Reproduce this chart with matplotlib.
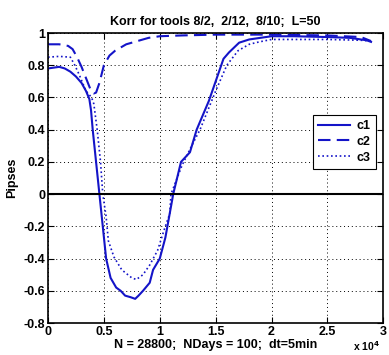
import numpy as np
import matplotlib.pyplot as plt

# ====== DATA (x in units of 10^4) ======
x1 = [0.00, 0.05, 0.10, 0.15, 0.20, 0.25, 0.30, 0.34, 0.37, 0.385, 0.40, 0.43, 0.46,
      0.49, 0.52, 0.56, 0.61, 0.65, 0.69, 0.74, 0.78, 0.81, 0.85, 0.91, 0.94, 1.00,
      1.05, 1.11, 1.12, 1.19, 1.27, 1.33, 1.44, 1.48, 1.57, 1.62, 1.71, 1.80, 1.90,
      2.00, 2.20, 2.50, 2.70, 2.85, 2.89]
c1 = [0.78, 0.785, 0.79, 0.78, 0.76, 0.73, 0.69, 0.64, 0.59, 0.52, 0.40, 0.20, 0.00,
      -0.20, -0.40, -0.52, -0.58, -0.60, -0.63, -0.64, -0.65, -0.63, -0.60, -0.55, -0.47, -0.40,
      -0.27, -0.04, 0.00, 0.20, 0.26, 0.40, 0.58, 0.66, 0.84, 0.88, 0.94, 0.96, 0.97,
      0.98, 0.98, 0.975, 0.97, 0.955, 0.945]

x2 = [0.00, 0.10, 0.18, 0.22, 0.26, 0.30, 0.34, 0.38, 0.41, 0.43, 0.46, 0.50, 0.55,
      0.60, 0.70, 0.80, 0.90, 1.00, 1.20, 1.50, 2.00, 2.50, 2.80, 2.89]
c2 = [0.93, 0.93, 0.92, 0.90, 0.85, 0.79, 0.72, 0.65, 0.625, 0.63, 0.69, 0.80, 0.86,
      0.89, 0.93, 0.95, 0.97, 0.98, 0.985, 0.99, 0.99, 0.985, 0.975, 0.95]

x3 = [0.00, 0.10, 0.20, 0.24, 0.28, 0.34, 0.39, 0.41, 0.44, 0.47, 0.49, 0.52, 0.54,
      0.59, 0.66, 0.75, 0.79, 0.85, 0.91, 0.98, 1.04, 1.09, 1.10, 1.20, 1.30, 1.36,
      1.50, 1.60, 1.70, 1.80, 1.89, 2.00, 2.50, 2.80, 2.89]
c3 = [0.85, 0.855, 0.85, 0.80, 0.74, 0.64, 0.60, 0.56, 0.40, 0.20, 0.00, -0.14, -0.29,
      -0.39, -0.47, -0.52, -0.53, -0.50, -0.44, -0.35, -0.22, -0.12, 0.00, 0.18, 0.32, 0.40,
      0.64, 0.80, 0.89, 0.93, 0.945, 0.96, 0.96, 0.955, 0.95]

x_ticks = [0, 0.5, 1, 1.5, 2, 2.5, 3]
x_labels = ["0", "0.5", "1", "1.5", "2", "2.5", "3"]
y_ticks = [-0.8, -0.6, -0.4, -0.2, 0, 0.2, 0.4, 0.6, 0.8, 1]
y_labels = ["-0.8", "-0.6", "-0.4", "-0.2", "0", "0.2", "0.4", "0.6", "0.8", "1"]

plt.rcParams['font.family'] = ['Liberation Sans', 'DejaVu Sans']
plt.rcParams['font.weight'] = 'bold'

# ====== FIGURE ======
fig = plt.figure(figsize=(3.89, 3.55), dpi=100)
ax = fig.add_axes([0.1234, 0.0901, 0.862, 0.8169])

blue = '#1414c8'
ax.plot(x1, c1, color=blue, lw=1.5, ls='-', label='c1')
ax.plot(x2, c2, color=blue, lw=1.5, ls=(0, (6, 3)), label='c2')
ax.plot(x3, c3, color=blue, lw=1.2, ls=(0, (1, 1.6)), label='c3')
ax.axhline(0, color='black', lw=1.5)

ax.set_xlim(0, 3)
ax.set_ylim(-0.8, 1)
ax.set_xticks(x_ticks)
ax.set_xticklabels(x_labels)
ax.set_yticks(y_ticks)
ax.set_yticklabels(y_labels)
ax.tick_params(direction='in', top=True, right=True, labelsize=9, length=4, pad=2)
ax.grid(True, color='black', ls=(0, (1, 3)), lw=0.7)
for s in ax.spines.values():
    s.set_linewidth(1.2)

ax.set_title("Korr for tools 8/2,  2/12,  8/10;  L=50", fontsize=9, fontweight='bold', pad=6)
ax.set_xlabel("N = 28800;  NDays = 100;  dt=5min", fontsize=9, fontweight='bold', labelpad=1)
ax.set_ylabel("Pipses", fontsize=9, fontweight='bold', labelpad=4)
ax.text(0.91, -0.098, r"x 10$^4$", transform=ax.transAxes, fontsize=7.5, fontweight='bold')

leg = ax.legend(loc='upper left', bbox_to_anchor=(0.79, 0.717), fontsize=9, fancybox=False,
                edgecolor='black', framealpha=1, handlelength=2.6, borderpad=0.4,
                labelspacing=0.3, handletextpad=0.5, borderaxespad=0)
leg.get_frame().set_linewidth(0.8)

fig.savefig("out.png", dpi=100)
